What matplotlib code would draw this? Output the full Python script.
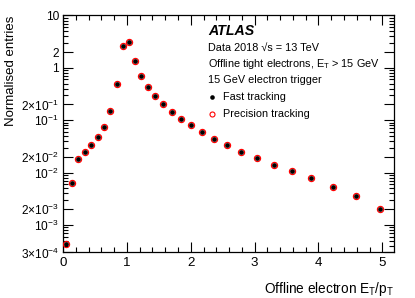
import numpy as np
import matplotlib
matplotlib.use("Agg")
import matplotlib.pyplot as plt
from matplotlib.ticker import FixedLocator, MultipleLocator, LogLocator, NullFormatter

plt.rcParams['font.family'] = ['Liberation Sans', 'DejaVu Sans']
plt.rcParams['mathtext.fontset'] = 'custom'
plt.rcParams['mathtext.rm'] = 'Liberation Sans'
plt.rcParams['mathtext.it'] = 'Liberation Sans:italic'

# E_T/p_T bin centres and normalised entries
et_pt = [0.04, 0.14, 0.24, 0.34, 0.44, 0.54, 0.64, 0.74, 0.84, 0.94, 1.04,
         1.13, 1.22, 1.33, 1.44, 1.57, 1.71, 1.85, 2.00, 2.18, 2.37, 2.57,
         2.79, 3.03, 3.30, 3.58, 3.88, 4.22, 4.58, 4.97]
fast = [4.3e-4, 6.4e-3, 0.0184, 0.0251, 0.034, 0.0484, 0.0752, 0.152, 0.491,
        2.64, 3.15, 1.33, 0.689, 0.43, 0.286, 0.204, 0.145, 0.105, 0.080,
        0.0596, 0.0444, 0.034, 0.0251, 0.0188, 0.01415, 0.0106, 7.79e-3,
        5.38e-3, 3.62e-3, 2.05e-3]
precision = [4.3e-4, 6.4e-3, 0.0184, 0.0251, 0.034, 0.0484, 0.0752, 0.152,
             0.491, 2.64, 3.15, 1.33, 0.689, 0.43, 0.286, 0.204, 0.145, 0.105,
             0.080, 0.0596, 0.0444, 0.034, 0.0251, 0.0188, 0.01415, 0.0106,
             7.79e-3, 5.38e-3, 3.62e-3, 2.05e-3]

ytick_vals = [3e-4, 1e-3, 2e-3, 1e-2, 2e-2, 1e-1, 2e-1, 1, 2, 10]
ytick_labels = [r'3$\times$10$^{-4}$', r'10$^{-3}$', r'2$\times$10$^{-3}$',
                r'10$^{-2}$', r'2$\times$10$^{-2}$', r'10$^{-1}$',
                r'2$\times$10$^{-1}$', '1', '2', '10']

fig = plt.figure(figsize=(4.15, 2.98), dpi=100)
ax = fig.add_axes([0.152, 0.153, 0.797, 0.795])

ax.plot(et_pt, precision, 'o', ms=4.4, mfc='none', mec='red', mew=0.9, zorder=3)
ax.plot(et_pt, fast, 'o', ms=3.4, mfc='black', mec='black', mew=0, zorder=4)

ax.set_yscale('log')
ax.set_ylim(3e-4, 10)
ax.set_xlim(0, 5.18)

ax.yaxis.set_major_locator(FixedLocator(ytick_vals))
ax.set_yticklabels(ytick_labels)
ax.yaxis.set_minor_locator(LogLocator(base=10, subs=np.arange(2, 10)))
ax.yaxis.set_minor_formatter(NullFormatter())
ax.xaxis.set_major_locator(MultipleLocator(1))
ax.xaxis.set_minor_locator(MultipleLocator(0.2))

ax.tick_params(which='both', direction='in', top=True, right=True, width=0.8)
ax.tick_params(which='major', length=7)
ax.tick_params(which='minor', length=3.5)
ax.tick_params(axis='x', labelsize=9.6, pad=3.5)
ax.tick_params(axis='y', labelsize=8.6, pad=3)
for s in ax.spines.values():
    s.set_linewidth(0.9)

ax.set_xlabel(r'Offline electron E$_\mathrm{T}$/p$_\mathrm{T}$', fontsize=9.8, loc='right', labelpad=8)
ax.set_ylabel('Normalised entries', fontsize=9.5, loc='top', labelpad=3)

fig.text(208 / 415, 1 - 30.7 / 298, 'ATLAS', fontsize=10.2, fontweight='bold', style='italic', va='center')
fig.text(208 / 415, 1 - 48.3 / 298, 'Data 2018 √s = 13 TeV', fontsize=7.8, va='center')
fig.text(208 / 415, 1 - 64.3 / 298, r'Offline tight electrons, E$_\mathrm{T}$ > 15 GeV', fontsize=7.8, va='center')
fig.text(208 / 415, 1 - 80 / 298, '15 GeV electron trigger', fontsize=7.8, va='center')

fig.lines.append(plt.Line2D([211.7 / 415], [1 - 97.3 / 298], marker='o', ms=3.3, mfc='black', mec='black',
                            mew=0, transform=fig.transFigure, figure=fig))
fig.lines.append(plt.Line2D([211.7 / 415], [1 - 114 / 298], marker='o', ms=3.6, mfc='none', mec='red',
                            mew=0.8, transform=fig.transFigure, figure=fig))
fig.text(223 / 415, 1 - 97.3 / 298, 'Fast tracking', fontsize=7.8, va='center')
fig.text(223 / 415, 1 - 114 / 298, 'Precision tracking', fontsize=7.8, va='center')

fig.savefig('out.png', dpi=100)
